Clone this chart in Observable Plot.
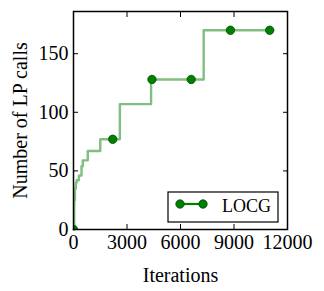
<!DOCTYPE html>
<html>
<head>
<meta charset="utf-8">
<script src="https://cdn.jsdelivr.net/npm/d3@7"></script>
<script src="https://cdn.jsdelivr.net/npm/@observablehq/plot@0.6"></script>
<style>
  html, body { margin: 0; padding: 0; background: #fff; }
  svg text { font-family: 'Liberation Serif', 'DejaVu Serif', serif; }
</style>
</head>
<body>
<div id="chart"></div>
<script>
// Step trace of LOCG: LP calls vs iterations
const iterations = [0, 40, 80, 130, 180, 300, 450, 520, 800, 1500, 2600, 4350, 7300, 11200];
const lpCalls    = [0, 25, 35, 40, 42, 46, 54, 59, 67, 77, 107, 128, 170, 170];

// Marker positions (markevery)
const markerIterations = [0, 2200, 4400, 6600, 8800, 11000];
const markerCalls      = [0, 77, 128, 128, 170, 170];

const xTicks = [0, 3000, 6000, 9000, 12000];
const yTicks = [0, 50, 100, 150];
const seriesName = "LOCG";

const lineData = iterations.map((x, i) => ({x, y: lpCalls[i]}));
const markerData = markerIterations.map((x, i) => ({x, y: markerCalls[i]}));

const green = "#008000";
const serif = "'Liberation Serif', 'DejaVu Serif', serif";

const chart = Plot.plot({
  width: 324,
  height: 291,
  marginLeft: 73,
  marginRight: 37,
  marginTop: 11,
  marginBottom: 62,
  style: {fontFamily: serif, fontSize: "20px", background: "#fff", color: "#000"},
  x: {domain: [0, 12000]},
  y: {domain: [0, 186]},
  marks: [
    Plot.line(lineData, {x: "x", y: "y", curve: "step-after", stroke: green, strokeOpacity: 0.5, strokeWidth: 2.4}),
    Plot.dot(markerData, {x: "x", y: "y", r: 4.2, fill: green, stroke: "#004a00", strokeWidth: 0.8, clip: "frame"}),
    Plot.axisX({ticks: xTicks, tickSize: -5, tickPadding: 10, fontSize: 20, fontFamily: serif, tickFormat: d => String(d), label: "Iterations", labelAnchor: "center", labelOffset: 52, labelArrow: "none"}),
    Plot.axisX({anchor: "top", ticks: xTicks, tickSize: -5, tickFormat: () => "", label: null}),
    Plot.axisY({ticks: yTicks, tickSize: -5, tickPadding: 10, fontSize: 20, fontFamily: serif, tickFormat: d => String(d), label: "Number of LP calls", labelAnchor: "center", labelOffset: 61, labelArrow: "none"}),
    Plot.axisY({anchor: "right", ticks: yTicks, tickSize: -5, tickFormat: () => "", label: null}),
    Plot.frame({stroke: "#000", strokeWidth: 1.5})
  ]
});

// Legend box (lower right inside the axes)
const svg = d3.select(chart);
const lg = svg.append("g").attr("class", "legend");
lg.append("rect").attr("x", 168).attr("y", 192).attr("width", 110).attr("height", 30)
  .attr("fill", "#fff").attr("stroke", "#000").attr("stroke-width", 1.2);
lg.append("line").attr("x1", 180).attr("x2", 203).attr("y1", 204).attr("y2", 204)
  .attr("stroke", green).attr("stroke-width", 2.2);
[180, 203].forEach(cx => lg.append("circle").attr("cx", cx).attr("cy", 204).attr("r", 4.2)
  .attr("fill", green).attr("stroke", "#004a00").attr("stroke-width", 0.8));
lg.append("text").attr("x", 222).attr("y", 212).attr("text-anchor", "start")
  .attr("font-size", "18px").attr("font-family", serif).attr("fill", "#000")
  .text(seriesName);

document.getElementById("chart").appendChild(chart);
</script>
</body>
</html>
